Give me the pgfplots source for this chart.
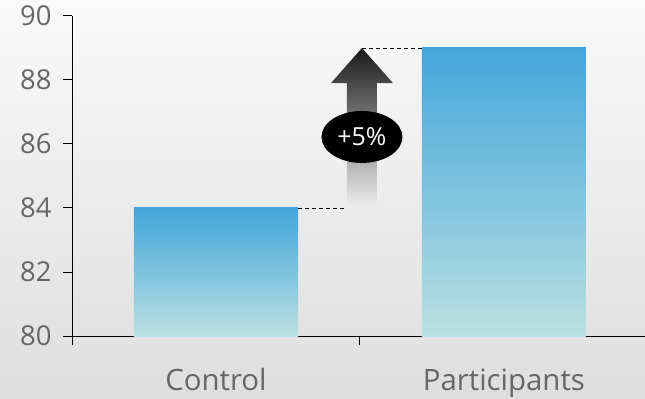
\documentclass[border=0pt]{standalone}
\usepackage{fontspec}
\setmainfont{Open Sans}
\usepackage{pgfplots}
\pgfplotsset{compat=1.18}
\definecolor{barTop}{HTML}{43A6DA}
\definecolor{barBot}{HTML}{BAE0E3}
\definecolor{tickGray}{HTML}{666666}
\begin{document}
\begin{tikzpicture}
% soft vertical backdrop
\shade[top color=black!2, bottom color=black!13] (0,0) rectangle (645bp,399bp);
\begin{axis}[
  at={(72bp,63bp)}, anchor=south west,
  scale only axis, width=573bp, height=320bp,
  xmin=0, xmax=1.99, ymin=80, ymax=90,
  axis lines*=left,
  axis line style={line width=1bp, black},
  tick style={line width=1bp, black},
  tick align=outside, major tick length=9bp,
  xtick={0,1,2}, xticklabels={},
  extra x ticks={0.5,1.5},
  extra x tick labels={Control,Participants},
  extra x tick style={major tick length=0pt,
    xticklabel style={yshift=-29bp, font=\fontsize{29.5}{31}\selectfont}},
  ytick={80,82,...,90},
  /pgf/number format/assume math mode=true,
  ticklabel style={font=\fontsize{27.5}{29}\selectfont, text=tickGray},
  yticklabel style={xshift=-8bp},
  clip=false,
]
% bars as filled columns rising from the 80 baseline
\addplot[draw=none, top color=barTop, bottom color=barBot]
  coordinates {(0.215,80) (0.215,84) (0.785,84) (0.785,80)} -- cycle;
\addplot[draw=none, top color=barTop, bottom color=barBot]
  coordinates {(1.215,80) (1.215,89) (1.785,89) (1.785,80)} -- cycle;
% guide lines from the bar tops to the arrow
\draw[black, line width=0.9bp, dash pattern=on 4bp off 3bp]
  (axis cs:0.785,84) -- (axis cs:0.955,84);
\draw[black, line width=0.9bp, dash pattern=on 4bp off 3bp]
  (axis cs:1.007,89) -- (axis cs:1.215,89);
% increase arrow
\shade[top color=black!90, bottom color=black!6]
  (axis cs:0.955,84) -- (axis cs:0.955,87.9) -- (axis cs:0.899,87.9)
  -- (axis cs:1.007,89) -- (axis cs:1.115,87.9) -- (axis cs:1.059,87.9)
  -- (axis cs:1.059,84) -- cycle;
\fill[black] (axis cs:1.007,86.22) ellipse [x radius=40.5bp, y radius=26bp];
\node[text=white, font=\fontsize{25}{27}\selectfont] at (axis cs:1.007,86.22) {+5\%};
\end{axis}
\pgfresetboundingbox
\path[use as bounding box] (0,0) rectangle (645bp,399bp);
\end{tikzpicture}
\end{document}
